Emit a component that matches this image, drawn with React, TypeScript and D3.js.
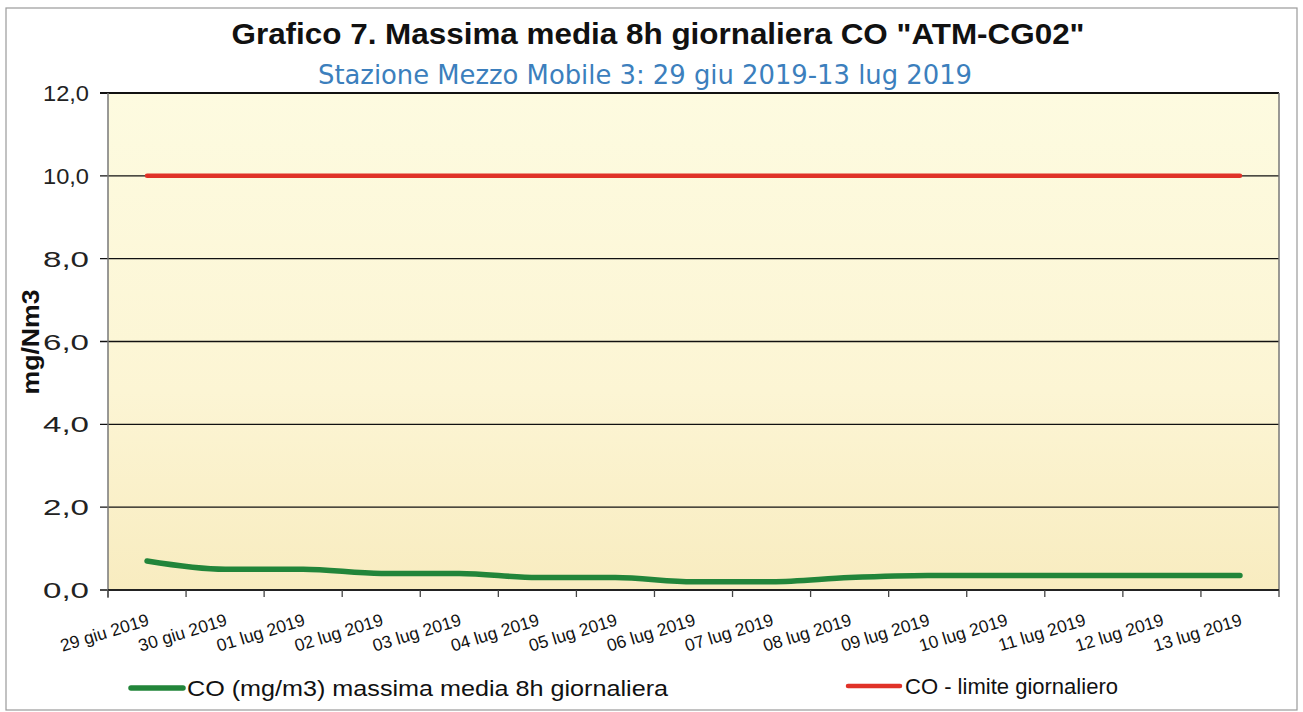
import React from "react";
import * as d3 from "d3";

const categories = [
  "29 giu 2019", "30 giu 2019", "01 lug 2019", "02 lug 2019", "03 lug 2019",
  "04 lug 2019", "05 lug 2019", "06 lug 2019", "07 lug 2019", "08 lug 2019",
  "09 lug 2019", "10 lug 2019", "11 lug 2019", "12 lug 2019", "13 lug 2019",
];
const coValues = [0.7, 0.5, 0.5, 0.4, 0.4, 0.3, 0.3, 0.2, 0.2, 0.3, 0.35, 0.35, 0.35, 0.35, 0.35];
const limitValues = [10, 10, 10, 10, 10, 10, 10, 10, 10, 10, 10, 10, 10, 10, 10];
const yTicks = [0, 2, 4, 6, 8, 10, 12];

const W = 1303;
const H = 712;
const plot = { left: 108, right: 1279, top: 93, bottom: 590 };

export default function App() {
  const x = d3
    .scaleBand<string>()
    .domain(categories)
    .range([plot.left, plot.right])
    .paddingInner(0)
    .paddingOuter(0);
  const y = d3.scaleLinear().domain([0, 12]).range([plot.bottom, plot.top]);
  const cx = (c: string) => (x(c) ?? 0) + x.bandwidth() / 2;

  const line = d3
    .line<number>()
    .x((_, i) => cx(categories[i]))
    .y((d) => y(d))
    .curve(d3.curveMonotoneX);

  const fmt = (v: number) => v.toFixed(1).replace(".", ",");
  const tickXs = [...categories.map((c) => x(c) ?? 0), plot.right];

  return (
    <svg
      width={W}
      height={H}
      style={{ position: "absolute", left: 0, top: 0, display: "block" }}
      fontFamily="Arial, 'Liberation Sans', sans-serif"
    >
      <defs>
        <linearGradient id="plotBg" x1="0" y1="0" x2="0" y2="1">
          <stop offset="0" stopColor="#fdfbe0" />
          <stop offset="0.6" stopColor="#fcf5d4" />
          <stop offset="1" stopColor="#f8ecc0" />
        </linearGradient>
      </defs>
      <rect x={0} y={0} width={W} height={H} fill="#ffffff" />
      <rect x={6} y={8} width={1291} height={702} fill="none" stroke="#9a9a9a" strokeWidth={1.2} />

      <text
        x={658}
        y={44}
        textAnchor="middle"
        fontSize={30}
        fontWeight="bold"
        fill="#111"
        textLength={853}
        lengthAdjust="spacingAndGlyphs"
      >
        Grafico 7. Massima media 8h giornaliera CO "ATM-CG02"
      </text>
      <text
        x={645}
        y={84}
        textAnchor="middle"
        fontSize={27}
        fill="#3c7fbd"
        fontFamily="'DejaVu Sans Condensed', 'DejaVu Sans', sans-serif"
        textLength={654}
        lengthAdjust="spacingAndGlyphs"
      >
        Stazione Mezzo Mobile 3: 29 giu 2019-13 lug 2019
      </text>

      <rect
        x={plot.left}
        y={plot.top}
        width={plot.right - plot.left}
        height={plot.bottom - plot.top}
        fill="url(#plotBg)"
      />

      {yTicks.map((t) => (
        <g key={t}>
          <line
            x1={100}
            x2={plot.right}
            y1={y(t)}
            y2={y(t)}
            stroke="#111"
            strokeWidth={t === 12 ? 2 : 1.3}
          />
          <text x={89} y={y(t) + 8} textAnchor="end" fontSize={22} fill="#222" textLength={46} lengthAdjust="spacingAndGlyphs">
            {fmt(t)}
          </text>
        </g>
      ))}

      <line x1={plot.left} x2={plot.left} y1={plot.top} y2={plot.bottom + 8} stroke="#777" strokeWidth={1.5} />
      <line x1={plot.right} x2={plot.right} y1={plot.top} y2={plot.bottom} stroke="#777" strokeWidth={1.5} />
      <line x1={plot.left} x2={plot.right} y1={plot.bottom} y2={plot.bottom} stroke="#222" strokeWidth={2} />

      {tickXs.map((tx, i) => (
        <line key={i} x1={tx} x2={tx} y1={plot.bottom} y2={plot.bottom + 7} stroke="#444" strokeWidth={1.3} />
      ))}

      {categories.map((c) => (
        <text
          key={c}
          transform={`translate(${cx(c) + 3},${plot.bottom + 35}) rotate(-17)`}
          textAnchor="end"
          fontSize={17.5}
          fill="#111"
        >
          {c}
        </text>
      ))}

      <text
        transform={`translate(39,342) rotate(-90)`}
        textAnchor="middle"
        fontSize={23}
        fontWeight="bold"
        fill="#111"
        textLength={105}
        lengthAdjust="spacingAndGlyphs"
      >
        mg/Nm3
      </text>

      <path d={line(limitValues) ?? ""} fill="none" stroke="#e03228" strokeWidth={4.5} strokeLinecap="round" />
      <path d={line(coValues) ?? ""} fill="none" stroke="#22853a" strokeWidth={5.5} strokeLinecap="round" />

      <line x1={131} x2={183} y1={688} y2={688} stroke="#22853a" strokeWidth={5.5} strokeLinecap="round" />
      <text x={187} y={696} fontSize={22} fill="#111" textLength={481} lengthAdjust="spacingAndGlyphs">
        CO (mg/m3) massima media 8h giornaliera
      </text>
      <line x1={848} x2={900} y1={686} y2={686} stroke="#e03228" strokeWidth={4.5} strokeLinecap="round" />
      <text x={905} y={694} fontSize={22} fill="#111" textLength={213} lengthAdjust="spacingAndGlyphs">
        CO - limite giornaliero
      </text>
    </svg>
  );
}
